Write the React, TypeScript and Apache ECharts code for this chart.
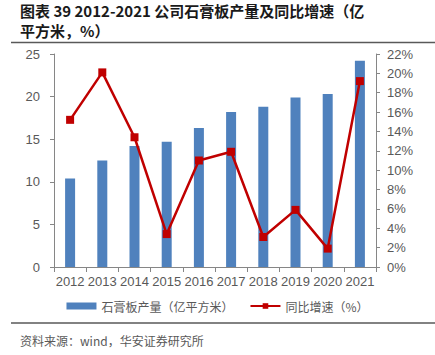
import React, { useEffect, useRef } from "react";
import * as echarts from "echarts";

const years = ["2012", "2013", "2014", "2015", "2016", "2017", "2018", "2019", "2020", "2021"];
const output = [10.4, 12.5, 14.2, 14.7, 16.3, 18.2, 18.8, 19.9, 20.3, 24.2];
const growth = [15.2, 20.1, 13.4, 3.4, 11.0, 11.9, 3.1, 5.9, 1.9, 19.2];
const titleLines = ["图表 39 2012-2021 公司石膏板产量及同比增速（亿", "平方米，%）"];
const sourceText = "资料来源：wind，华安证券研究所";
const barName = "石膏板产量（亿平方米）";
const lineName = "同比增速（%）";

export default function App() {
  const ref = useRef<HTMLDivElement>(null);
  useEffect(() => {
    if (!ref.current) return;
    const chart = echarts.init(ref.current, null, { renderer: "svg" });
    const axisColor = "#868686";
    const labelColor = "#595959";
    const cjk = "'Noto Sans CJK SC', sans-serif";
    chart.setOption({
      animation: false,
      backgroundColor: "#ffffff",
      grid: { left: 54, right: 59, top: 54, bottom: 88 },
      legend: {
        bottom: 38,
        left: "center",
        itemGap: 16,
        itemWidth: 30,
        itemHeight: 7,
        textStyle: { color: labelColor, fontSize: 12, fontFamily: cjk },
        data: [
          { name: barName, icon: "rect" },
          { name: lineName },
        ],
      },
      graphic: [
        {
          type: "text",
          left: 20,
          top: 3,
          style: { text: titleLines[0], font: "bold 15px 'Noto Sans CJK SC'", fill: "#1a1a1a", letterSpacing: 0.6 },
        },
        {
          type: "text",
          left: 20,
          top: 23,
          style: { text: titleLines[1], font: "bold 15px 'Noto Sans CJK SC'", fill: "#1a1a1a", letterSpacing: 0.6 },
        },
        {
          type: "line",
          shape: { x1: 11, y1: 42.5, x2: 435, y2: 42.5 },
          style: { stroke: "#595959", lineWidth: 1.5 },
        },
        {
          type: "line",
          shape: { x1: 11, y1: 323, x2: 435, y2: 323 },
          style: { stroke: "#595959", lineWidth: 1.5 },
        },
        {
          type: "text",
          left: 20,
          top: 334,
          style: { text: sourceText, font: "12px 'Noto Sans CJK SC'", fill: labelColor },
        },
      ],
      xAxis: {
        type: "category",
        data: years,
        axisLine: { lineStyle: { color: axisColor } },
        axisTick: { show: true, alignWithLabel: false, lineStyle: { color: axisColor }, length: 5 },
        axisLabel: { color: labelColor, fontSize: 13, fontFamily: "Arial, 'Liberation Sans'", margin: 8, interval: 0 },
      },
      yAxis: [
        {
          type: "value",
          min: 0,
          max: 25,
          interval: 5,
          splitLine: { show: false },
          axisLine: { show: true, lineStyle: { color: axisColor } },
          axisTick: { show: true, lineStyle: { color: axisColor }, length: 4 },
          axisLabel: { color: labelColor, fontSize: 13, fontFamily: "Arial, 'Liberation Sans'", margin: 14 },
        },
        {
          type: "value",
          min: 0,
          max: 22,
          interval: 2,
          splitLine: { show: false },
          axisLine: { show: true, lineStyle: { color: axisColor } },
          axisTick: { show: true, lineStyle: { color: axisColor }, length: 4 },
          axisLabel: { color: labelColor, fontSize: 13, fontFamily: "Arial, 'Liberation Sans'", formatter: "{value}%", margin: 11 },
        },
      ],
      series: [
        {
          name: barName,
          type: "bar",
          data: output,
          barWidth: 10,
          itemStyle: { color: "#4F81BD" },
        },
        {
          name: lineName,
          type: "line",
          yAxisIndex: 1,
          data: growth,
          symbol: "rect",
          symbolSize: 8,
          lineStyle: { color: "#C00000", width: 2.5 },
          itemStyle: { color: "#C00000" },
        },
      ],
    });
    return () => chart.dispose();
  }, []);
  return <div ref={ref} style={{ width: 435, height: 355, position: "absolute", left: 0, top: 0 }} />;
}
